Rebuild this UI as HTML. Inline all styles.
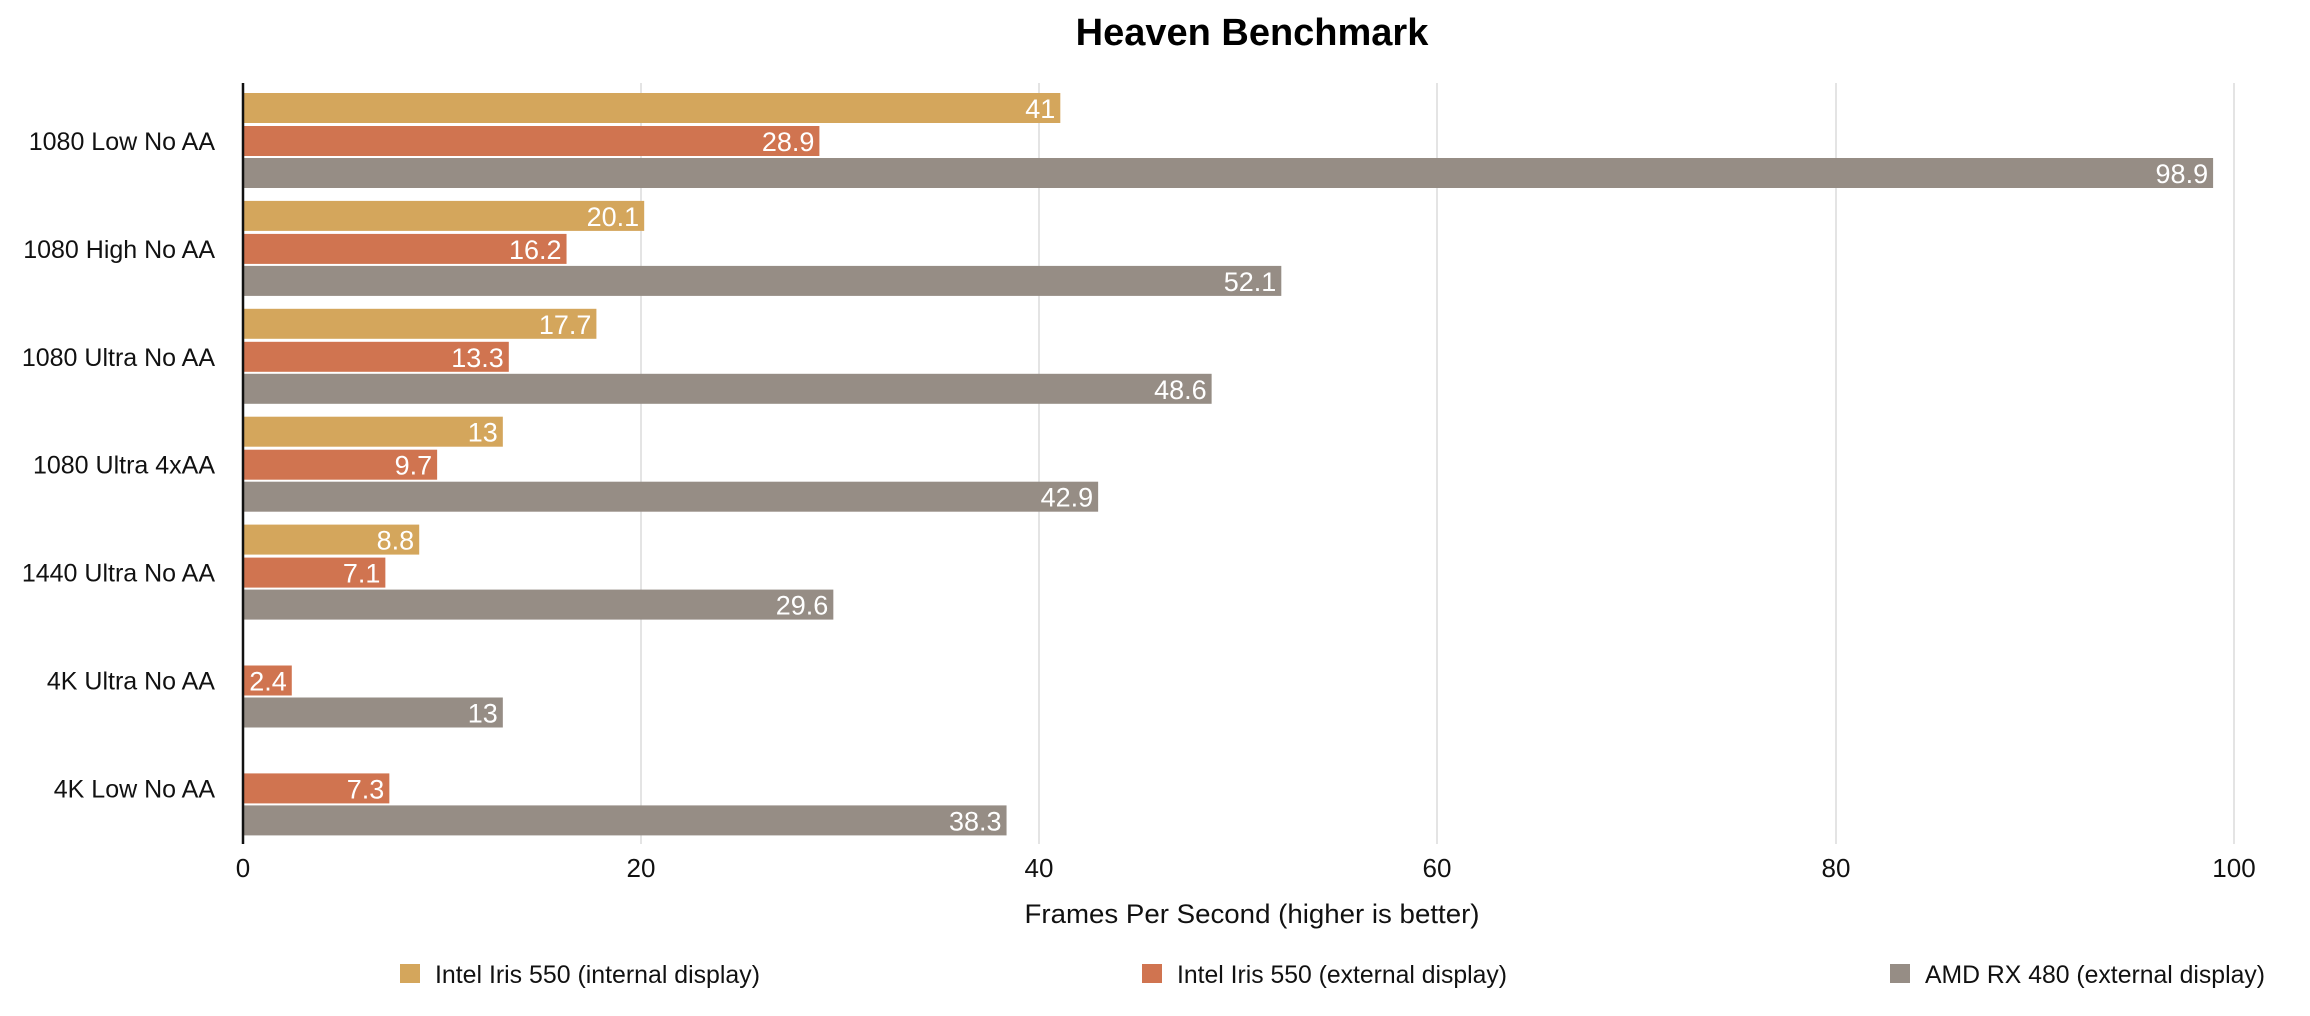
<!DOCTYPE html>
<html><head><meta charset="utf-8"><style>html,body{margin:0;padding:0;background:#fff}svg{display:block}</style></head>
<body>
<svg width="2310" height="1016" viewBox="0 0 2310 1016" xmlns="http://www.w3.org/2000/svg" font-family="Liberation Sans, Arial, sans-serif">
<rect width="2310" height="1016" fill="#fff"/>
<text x="1252" y="45" font-size="38" font-weight="bold" text-anchor="middle" fill="#000">Heaven Benchmark</text>
<g stroke="#dcdcdc" stroke-width="1.5">
<line x1="641" y1="83" x2="641" y2="844"/>
<line x1="1039" y1="83" x2="1039" y2="844"/>
<line x1="1437" y1="83" x2="1437" y2="844"/>
<line x1="1836" y1="83" x2="1836" y2="844"/>
<line x1="2234" y1="83" x2="2234" y2="844"/>
</g>
<g id="bars" font-size="27" fill="#fff" text-anchor="end"></g>
<line x1="243" y1="83" x2="243" y2="844" stroke="#111" stroke-width="2.5"/>
<g font-size="26" text-anchor="middle" fill="#111">
<text x="243" y="877">0</text><text x="641" y="877">20</text><text x="1039" y="877">40</text><text x="1437" y="877">60</text><text x="1836" y="877">80</text><text x="2234" y="877">100</text>
</g>
<text x="1252" y="923" font-size="27" text-anchor="middle" fill="#111" textLength="455" lengthAdjust="spacingAndGlyphs">Frames Per Second (higher is better)</text>
<rect x="400" y="964" width="20" height="19" fill="#D4A65C"/>
<text x="435" y="983" font-size="25" fill="#111" textLength="325" lengthAdjust="spacingAndGlyphs">Intel Iris 550 (internal display)</text>
<rect x="1142" y="964" width="20" height="19" fill="#D07450"/>
<text x="1177" y="983" font-size="25" fill="#111" textLength="330" lengthAdjust="spacingAndGlyphs">Intel Iris 550 (external display)</text>
<rect x="1890" y="964" width="20" height="19" fill="#968D85"/>
<text x="1925" y="983" font-size="25" fill="#111" textLength="340" lengthAdjust="spacingAndGlyphs">AMD RX 480 (external display)</text>
<g id="cats" font-size="25" text-anchor="end" fill="#111"></g>
</svg>
<script>
var data=[["1080 Low No AA",41,28.9,98.9],["1080 High No AA",20.1,16.2,52.1],["1080 Ultra No AA",17.7,13.3,48.6],["1080 Ultra 4xAA",13,9.7,42.9],["1440 Ultra No AA",8.8,7.1,29.6],["4K Ultra No AA",null,2.4,13],["4K Low No AA",null,7.3,38.3]];
var cols=["#D4A65C","#D07450","#968D85"],offs=[93,126,158],ns="http://www.w3.org/2000/svg";
var g=document.getElementById("bars"),c=document.getElementById("cats");
data.forEach(function(d,i){var base=107.9*i;
 var t=document.createElementNS(ns,"text");t.setAttribute("x",215);t.setAttribute("y",base+150);t.textContent=d[0];c.appendChild(t);
 for(var k=0;k<3;k++){var v=d[k+1];if(v==null)continue;var y=base+offs[k],w=v*19.91;
  var r=document.createElementNS(ns,"rect");r.setAttribute("x",244);r.setAttribute("y",y);r.setAttribute("width",w);r.setAttribute("height",30);r.setAttribute("fill",cols[k]);g.appendChild(r);
  var tx=document.createElementNS(ns,"text");tx.setAttribute("x",244+w-5);tx.setAttribute("y",y+25);tx.textContent=String(v);g.appendChild(tx);}
});
</script>
</body></html>
